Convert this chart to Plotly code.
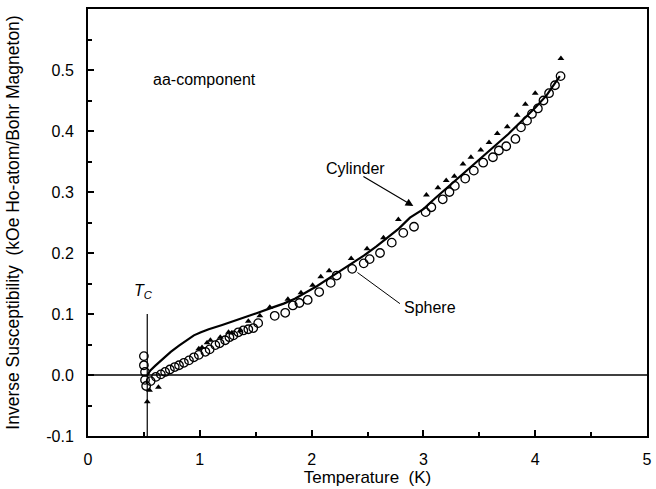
import plotly.graph_objects as go

# ---- data ----
sphere_T = [0.50, 0.50, 0.51, 0.51, 0.52, 0.56,
            0.608, 0.652, 0.690, 0.732, 0.776, 0.814, 0.858, 0.903, 0.947, 0.991,
            1.050, 1.088, 1.139, 1.177, 1.227, 1.265, 1.301, 1.345, 1.389, 1.434,
            1.478, 1.522, 1.670, 1.764, 1.832, 1.891, 1.965, 2.068, 2.171, 2.224,
            2.363, 2.466, 2.519, 2.612, 2.717, 2.820, 2.916, 3.020, 3.071, 3.173,
            3.233, 3.281, 3.374, 3.451, 3.535, 3.622, 3.675, 3.741, 3.823, 3.873,
            3.927, 3.971, 4.024, 4.074, 4.124, 4.177, 4.227]
sphere_chi = [0.031, 0.016, 0.005, -0.008, -0.018, -0.010,
              -0.003, 0.001, 0.005, 0.009, 0.013, 0.016, 0.020, 0.024, 0.029, 0.033,
              0.038, 0.042, 0.049, 0.052, 0.057, 0.062, 0.065, 0.070, 0.073, 0.075,
              0.077, 0.085, 0.097, 0.102, 0.114, 0.118, 0.123, 0.136, 0.151, 0.163,
              0.174, 0.183, 0.190, 0.200, 0.217, 0.233, 0.243, 0.267, 0.275, 0.288,
              0.300, 0.310, 0.322, 0.335, 0.348, 0.357, 0.368, 0.375, 0.387, 0.406,
              0.417, 0.428, 0.437, 0.450, 0.462, 0.475, 0.490]

cyl_T = [0.53, 0.55, 0.63,
         0.991, 1.020, 1.065, 1.095, 1.183, 1.257, 1.286, 1.360, 1.434, 1.537,
         1.626, 1.788, 1.905, 2.009, 2.082, 2.157, 2.354, 2.496, 2.643, 2.776,
         3.027, 3.130, 3.204, 3.277, 3.354, 3.425, 3.513, 3.587, 3.661, 3.750,
         3.838, 3.912, 4.000, 4.230]
cyl_chi = [-0.044, -0.025, -0.020,
           0.043, 0.045, 0.053, 0.057, 0.062, 0.070, 0.069, 0.072, 0.088, 0.097,
           0.111, 0.124, 0.135, 0.147, 0.161, 0.171, 0.191, 0.207, 0.225, 0.255,
           0.295, 0.307, 0.319, 0.326, 0.346, 0.357, 0.369, 0.381, 0.396, 0.407,
           0.426, 0.444, 0.462, 0.519]

theory_T = [0.53, 0.56, 0.60, 0.667, 0.74, 0.814, 0.88, 0.947, 1.01, 1.08, 1.20,
            1.30, 1.404, 1.52, 1.64, 1.75, 1.85, 1.95, 2.05, 2.15, 2.26, 2.36,
            2.47, 2.58, 2.67, 2.78, 2.88, 3.00, 3.10, 3.20, 3.33, 3.47, 3.60,
            3.76, 3.90, 4.00, 4.10, 4.22]
theory_chi = [0.000, 0.008, 0.015, 0.026, 0.038, 0.048, 0.057, 0.065, 0.070, 0.075,
              0.082, 0.088, 0.095, 0.102, 0.110, 0.117, 0.125, 0.135, 0.146, 0.158,
              0.171, 0.183, 0.196, 0.211, 0.224, 0.240, 0.258, 0.272, 0.289, 0.305,
              0.325, 0.347, 0.368, 0.395, 0.420, 0.438, 0.458, 0.490]

x_ticks = [0, 1, 2, 3, 4, 5]
y_ticks = [-0.1, 0.0, 0.1, 0.2, 0.3, 0.4, 0.5]
y_tick_labels = ["-0.1", "0.0", "0.1", "0.2", "0.3", "0.4", "0.5"]

Tc = 0.53

FONT = "Liberation Sans, Arial, Helvetica, sans-serif"

fig = go.Figure()

fig.add_trace(go.Scatter(x=theory_T, y=theory_chi, mode="lines",
                         line=dict(color="black", width=2.2), showlegend=False))
fig.add_trace(go.Scatter(x=sphere_T, y=sphere_chi, mode="markers",
                         marker=dict(symbol="circle-open", size=8.5, color="black",
                                     line=dict(width=1.3, color="black")),
                         showlegend=False))
fig.add_trace(go.Scatter(x=cyl_T, y=cyl_chi, mode="markers",
                         marker=dict(symbol="triangle-up", size=6, color="black"),
                         showlegend=False))

# zero line and Tc marker line
fig.add_shape(type="line", x0=0, x1=5, y0=0, y1=0, xref="x", yref="y",
              line=dict(color="black", width=1.5))
fig.add_shape(type="line", x0=Tc, x1=Tc, y0=-0.1, y1=0.1, xref="x", yref="y",
              line=dict(color="black", width=1.2))
# Sphere pointer line
fig.add_shape(type="line", x0=2.41, y0=0.168, x1=2.79, y1=0.117, xref="x", yref="y",
              line=dict(color="black", width=1))

fig.add_annotation(x=Tc - 0.03, y=0.137, text="<i>T</i><sub><i>C</i></sub>",
                   showarrow=False, font=dict(family=FONT, size=16, color="black"))
fig.add_annotation(x=0.56, y=0.485, text="aa-component", xanchor="left",
                   showarrow=False, font=dict(family=FONT, size=16, color="black"))
fig.add_annotation(x=2.39, y=0.339, text="Cylinder", showarrow=False,
                   font=dict(family=FONT, size=16, color="black"))
fig.add_annotation(x=2.91, y=0.277, ax=2.45, ay=0.327, axref="x", ayref="y",
                   xref="x", yref="y", text="", showarrow=True, arrowhead=2,
                   arrowsize=1.3, arrowwidth=1.2, arrowcolor="black")
fig.add_annotation(x=3.06, y=0.110, text="Sphere", showarrow=False,
                   font=dict(family=FONT, size=16, color="black"))

fig.update_xaxes(range=[0, 5], tickvals=x_ticks, ticks="inside", ticklen=6,
                 tickwidth=1.5, tickcolor="black", showline=True, linecolor="black",
                 linewidth=2, mirror=True, showgrid=False, zeroline=False,
                 minor=dict(dtick=0.5, ticks="inside", ticklen=4, tickcolor="black"),
                 ticklabelstandoff=8,
                 tickfont=dict(family=FONT, size=16, color="black"),
                 title=dict(text="Temperature\u00a0\u00a0(K)", standoff=4,
                            font=dict(family=FONT, size=17, color="black")))
fig.update_yaxes(range=[-0.1, 0.6], tickvals=y_ticks, ticktext=y_tick_labels,
                 ticks="inside", ticklen=6, tickwidth=1.5, tickcolor="black",
                 showline=True, linecolor="black", linewidth=2, mirror=True,
                 showgrid=False, zeroline=False,
                 minor=dict(dtick=0.05, ticks="inside", ticklen=4, tickcolor="black"),
                 ticklabelstandoff=9,
                 tickfont=dict(family=FONT, size=16, color="black"),
                 title=dict(text="Inverse Susceptibility\u00a0\u00a0(kOe Ho-atom/Bohr Magneton)",
                            standoff=22, font=dict(family=FONT, size=17.5, color="black")))

fig.update_layout(width=656, height=489, margin=dict(l=88, r=4, t=9, b=53),
                  plot_bgcolor="white", paper_bgcolor="white")

fig.write_html("out.html")
